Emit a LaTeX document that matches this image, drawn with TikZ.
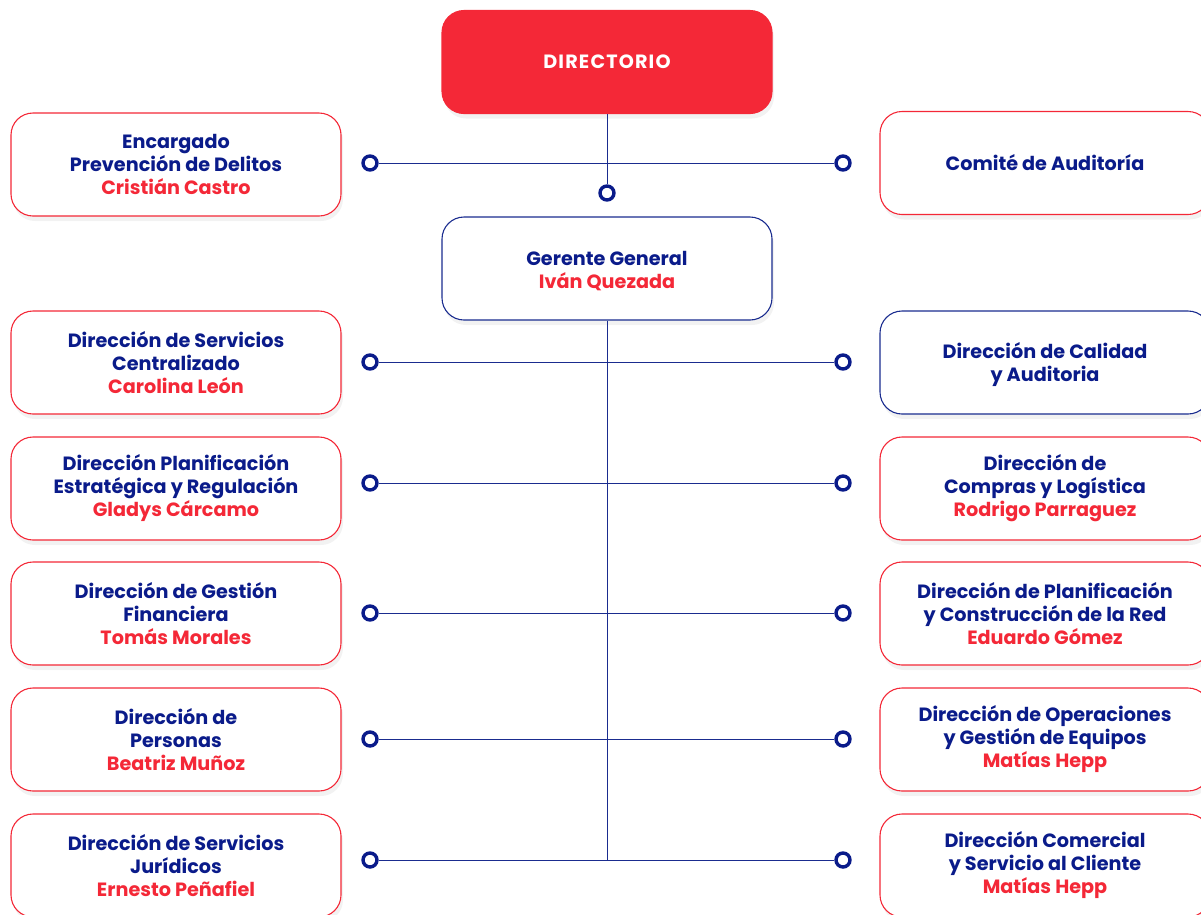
\documentclass[tikz,border=0pt]{standalone}
\usepackage{fontspec}
\setmainfont{Poppins}
\usetikzlibrary{shadows}
\definecolor{navy}{HTML}{0A1B8A}
\definecolor{lnavy}{HTML}{1A2C8F}
\definecolor{cred}{HTML}{F42837}
\tikzset{
  box/.style={draw=cred, line width=1.1pt, fill=white, rounded corners=22pt,
    minimum width=330pt, minimum height=103pt, align=center, inner sep=0pt,
    font=\fontsize{19.2}{23}\selectfont\bfseries, text=navy,
    drop shadow={opacity=0.10, shadow xshift=2pt, shadow yshift=-5pt}},
  nbox/.style={box, draw=lnavy},
  dirbox/.style={box, fill=cred, draw=cred, text=white,
    font=\fontsize{19.2}{23}\selectfont\bfseries\addfontfeature{LetterSpace=6}},
  dot/.style={circle, draw=navy, line width=3.4pt, fill=white, minimum size=14pt, inner sep=0pt},
  conn/.style={draw=lnavy, line width=0.9pt},
}
\newcommand{\nm}[1]{\textcolor{cred}{#1}}
\begin{document}
\begin{tikzpicture}[x=1pt,y=-1pt]
\useasboundingbox (0,0) rectangle (1201,914);
\clip (0,0) rectangle (1201,914);
% top
\node[dirbox] (dir) at (607,62) {DIRECTORIO};
\node[box] (enc) at (176,164.5) {Encargado\\Prevención de Delitos\\\nm{Cristián Castro}};
\node[box] (com) at (1045,163) {Comité de Auditoría};
\node[nbox] (gg) at (607,268.5) {\\[-3pt]Gerente General\\\nm{Iván Quezada}};
% left column
\node[box] (l1) at (176,362.5) {Dirección de Servicios\\Centralizado\\\nm{Carolina León}};
\node[box] (l2) at (176,488.5) {Dirección Planificación\\Estratégica y Regulación\\\nm{Gladys Cárcamo}};
\node[box] (l3) at (176,613.5) {Dirección de Gestión\\Financiera\\\nm{Tomás Morales}};
\node[box] (l4) at (176,739.5) {Dirección de\\Personas\\\nm{Beatriz Muñoz}};
\node[box] (l5) at (176,865.5) {Dirección de Servicios\\Jurídicos\\\nm{Ernesto Peñafiel}};
% right column
\node[nbox] (r1) at (1045,362.5) {\\[-3pt]Dirección de Calidad\\y Auditoria};
\node[box] (r2) at (1045,488.5) {Dirección de\\Compras y Logística\\\nm{Rodrigo Parraguez}};
\node[box] (r3) at (1045,613.5) {Dirección de Planificación\\y Construcción de la Red\\\nm{Eduardo Gómez}};
\node[box] (r4) at (1045,739.5) {Dirección de Operaciones\\y Gestión de Equipos\\\nm{Matías Hepp}};
\node[box] (r5) at (1045,865.5) {Dirección Comercial\\y Servicio al Cliente\\\nm{Matías Hepp}};
% connectors
\coordinate (trunk) at (607,860);
\node[dot] (d0) at (607,193) {};
\node[dot] (a0) at (370,163) {};
\node[dot] (b0) at (843,163) {};
\node[dot] (a1) at (370,362) {};
\node[dot] (b1) at (843,362) {};
\node[dot] (a2) at (370,483) {};
\node[dot] (b2) at (843,483) {};
\node[dot] (a3) at (370,613) {};
\node[dot] (b3) at (843,613) {};
\node[dot] (a4) at (370,739) {};
\node[dot] (b4) at (843,739) {};
\node[dot] (a5) at (370,860) {};
\node[dot] (b5) at (843,860) {};
\path[conn] (dir.south) -- (d0);
\path[conn] (a0) -- (b0);
\path[conn] (gg.south) -- (trunk);
\path[conn] (a1) -- (b1);
\path[conn] (a2) -- (b2);
\path[conn] (a3) -- (b3);
\path[conn] (a4) -- (b4);
\path[conn] (a5) -- (b5);
\end{tikzpicture}
\end{document}
